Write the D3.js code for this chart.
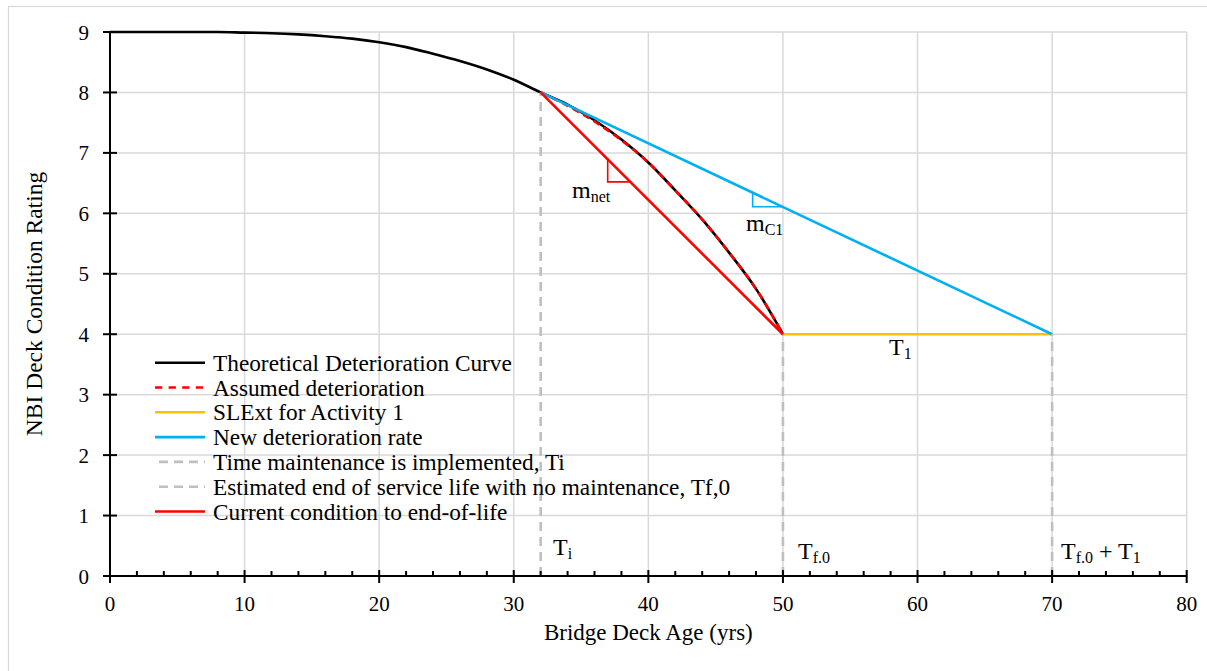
<!DOCTYPE html>
<html>
<head>
<meta charset="utf-8">
<script src="https://cdn.jsdelivr.net/npm/d3@7"></script>
<style>
  html, body { margin: 0; padding: 0; background: #fff; }
  svg { display: block; font-family: "Liberation Serif", "Times New Roman", serif; }
</style>
</head>
<body>
<svg id="chart" width="1207" height="671"></svg>
<script>
// ---- Data ----
const theoAge    = [0, 2, 4, 6, 8, 10, 12, 14, 16, 18, 20, 22, 24, 26, 28, 30, 32, 34, 36, 38, 40, 42, 44, 46, 48, 50];
const theoRating = [9.00, 9.00, 9.00, 9.00, 9.00, 8.99, 8.98, 8.96, 8.93, 8.89, 8.83, 8.75, 8.64, 8.52, 8.38, 8.21, 8.00, 7.80, 7.54, 7.22, 6.84, 6.38, 5.90, 5.35, 4.75, 4.00];

const assumedAge    = [32, 34, 36, 38, 40, 42, 44, 46, 48, 50];
const assumedRating = [8.00, 7.78, 7.52, 7.21, 6.84, 6.38, 5.90, 5.35, 4.75, 4.00];

const slextAge    = [50, 70];
const slextRating = [4, 4];

const newRateAge    = [32, 70];
const newRateRating = [8, 4];

const tiAge    = [32, 32];
const tiRating = [0, 8];

const tf0Age    = [50, 50];
const tf0Rating = [0, 4];

const tf0T1Age    = [70, 70];
const tf0T1Rating = [0, 4];

const currentAge    = [32, 50];
const currentRating = [8, 4];

const mnetTriAge    = [36.98, 36.98, 38.63];
const mnetTriRating = [6.91, 6.52, 6.52];
const mc1TriAge     = [47.75, 47.75, 50.0];
const mc1TriRating  = [6.34, 6.11, 6.11];

const xTicks = [0, 10, 20, 30, 40, 50, 60, 70, 80];
const xMinorTicks = d3.range(0, 81, 2).filter(v => v % 10 !== 0);
const yTicks = [0, 1, 2, 3, 4, 5, 6, 7, 8, 9];

const legendLabels = [
  "Theoretical Deterioration Curve",
  "Assumed deterioration",
  "SLExt for Activity 1",
  "New deterioration rate",
  "Time maintenance is implemented, Ti",
  "Estimated end of service life with no maintenance, Tf,0",
  "Current condition to end-of-life"
];

// ---- Layout ----
const svg = d3.select("#chart");
const W = 1207, H = 671;
const plotL = 110, plotR = 1186.7, plotT = 32, plotB = 576;

const x = d3.scaleLinear().domain([0, 80]).range([plotL, plotR]);
const y = d3.scaleLinear().domain([0, 9]).range([plotB, plotT]);

const C = {
  black: "#000000", red: "#ff0000", orange: "#ffc000", blue: "#00b0f0",
  gray: "#bfbfbf", grid: "#d9d9d9"
};

// outer border
svg.append("rect").attr("x", 8.5).attr("y", 6.5).attr("width", 1300).attr("height", 800)
  .attr("fill", "none").attr("stroke", C.grid).attr("stroke-width", 1.2);

// gridlines
const grid = svg.append("g");
grid.selectAll("line.gy").data(yTicks.filter(v => v > 0)).join("line")
  .attr("x1", plotL).attr("x2", plotR).attr("y1", d => y(d)).attr("y2", d => y(d))
  .attr("stroke", C.grid).attr("stroke-width", 1.5);
grid.selectAll("line.gx").data(xTicks.filter(v => v > 0)).join("line")
  .attr("x1", d => x(d)).attr("x2", d => x(d)).attr("y1", plotT).attr("y2", plotB)
  .attr("stroke", C.grid).attr("stroke-width", 1.5);

// series helper
const zip = (xs, ys) => xs.map((v, i) => [v, ys[i]]);
const line = d3.line().x(d => x(d[0])).y(d => y(d[1]));
const smooth = d3.line().x(d => x(d[0])).y(d => y(d[1])).curve(d3.curveMonotoneX);

const series = [
  { pts: zip(theoAge, theoRating), color: C.black, dash: null, gen: smooth },
  { pts: zip(assumedAge, assumedRating), color: C.red, dash: "7,5", gen: smooth },
  { pts: zip(slextAge, slextRating), color: C.orange, dash: null, gen: line },
  { pts: zip(newRateAge, newRateRating), color: C.blue, dash: null, gen: line },
  { pts: zip(tiAge, tiRating), color: C.gray, dash: "9,6", gen: line },
  { pts: zip(tf0Age, tf0Rating), color: C.gray, dash: "9,6", gen: line },
  { pts: zip(tf0T1Age, tf0T1Rating), color: C.gray, dash: "9,6", gen: line },
  { pts: zip(currentAge, currentRating), color: C.red, dash: null, gen: line }
];

const plot = svg.append("g");
series.forEach(s => {
  plot.append("path").attr("d", s.gen(s.pts))
    .attr("fill", "none").attr("stroke", s.color).attr("stroke-width", 2.6)
    .attr("stroke-dasharray", s.dash).attr("stroke-linejoin", "round");
});

// slope triangles
plot.append("path").attr("d", line(zip(mnetTriAge, mnetTriRating)))
  .attr("fill", "none").attr("stroke", C.red).attr("stroke-width", 1.6);
plot.append("path").attr("d", line(zip(mc1TriAge, mc1TriRating)))
  .attr("fill", "none").attr("stroke", C.blue).attr("stroke-width", 1.6);

// axes
const axisG = svg.append("g");
axisG.append("line").attr("x1", plotL).attr("x2", plotL).attr("y1", plotT).attr("y2", plotB)
  .attr("stroke", C.black).attr("stroke-width", 2);
axisG.append("line").attr("x1", plotL).attr("x2", plotR).attr("y1", plotB).attr("y2", plotB)
  .attr("stroke", C.black).attr("stroke-width", 2);

// y ticks
axisG.selectAll("line.yt").data(yTicks).join("line")
  .attr("x1", plotL - 7).attr("x2", plotL + 7).attr("y1", d => y(d)).attr("y2", d => y(d))
  .attr("stroke", C.black).attr("stroke-width", 2);
axisG.selectAll("text.yl").data(yTicks).join("text")
  .attr("x", 89).attr("y", d => y(d) + 7.5).attr("text-anchor", "end")
  .attr("font-size", 21).attr("fill", "#000").text(d => d);

// x ticks
axisG.selectAll("line.xt").data(xTicks).join("line")
  .attr("x1", d => x(d)).attr("x2", d => x(d)).attr("y1", plotB - 6).attr("y2", plotB + 7)
  .attr("stroke", C.black).attr("stroke-width", 2);
axisG.selectAll("line.xm").data(xMinorTicks).join("line")
  .attr("x1", d => x(d)).attr("x2", d => x(d)).attr("y1", plotB - 5).attr("y2", plotB)
  .attr("stroke", C.black).attr("stroke-width", 2);
axisG.selectAll("text.xl").data(xTicks).join("text")
  .attr("x", d => x(d)).attr("y", 611).attr("text-anchor", "middle")
  .attr("font-size", 21).attr("fill", "#000").text(d => d);

// axis titles
svg.append("text").attr("x", (plotL + plotR) / 2).attr("y", 640).attr("text-anchor", "middle")
  .attr("font-size", 23).text("Bridge Deck Age (yrs)");
svg.append("text").attr("transform", `translate(42,${(plotT + plotB) / 2}) rotate(-90)`)
  .attr("text-anchor", "middle").attr("font-size", 23.5).text("NBI Deck Condition Rating");

// legend
const leg = svg.append("g");
const legY0 = 362.7, legDY = 24.8;
series.filter((s, i) => i !== 6).forEach((s, i) => {
  const yy = legY0 + i * legDY;
  leg.append("line").attr("x1", 155).attr("x2", 205).attr("y1", yy).attr("y2", yy)
    .attr("stroke", s.color).attr("stroke-width", 2.6)
    .attr("stroke-dasharray", s.dash ? (s.color === C.red ? "7.3,6.3" : "9,6") : null)
    .attr("stroke-dashoffset", s.color === C.gray ? -4 : 0);
  leg.append("text").attr("x", 213).attr("y", yy + 8).attr("font-size", 23.3)
    .text(legendLabels[i]);
});

// annotations with subscripts
function subLabel(px, py, main, sub, rest, sub2) {
  const t = svg.append("text").attr("x", px).attr("y", py).attr("font-size", 24);
  t.append("tspan").text(main);
  t.append("tspan").attr("font-size", 16).attr("dy", 4).text(sub);
  if (rest) {
    t.append("tspan").attr("dy", -4).text(rest);
    t.append("tspan").attr("font-size", 16).attr("dy", 4).text(sub2);
  }
}
subLabel(572, 198, "m", "net");
subLabel(746, 231, "m", "C1");
subLabel(889, 355, "T", "1");
subLabel(553, 555, "T", "i");
subLabel(798, 559, "T", "f.0");
subLabel(1061, 559, "T", "f.0", " + T", "1");
</script>
</body>
</html>
